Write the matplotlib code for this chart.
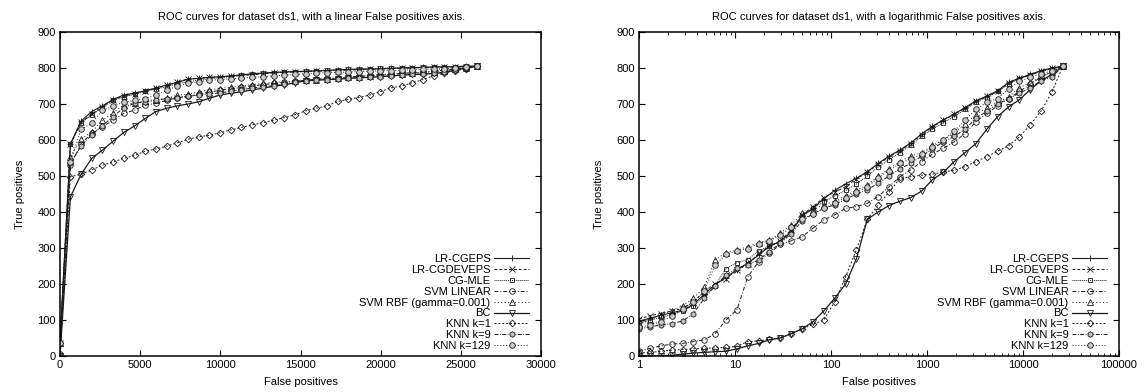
import matplotlib
matplotlib.use("Agg")
import matplotlib.pyplot as plt
import matplotlib.ticker as mticker

plt.rcParams['font.family'] = ['Liberation Sans Narrow', 'Liberation Sans', 'DejaVu Sans']
plt.rcParams['font.size'] = 8

labels = ['LR-CGEPS', 'LR-CGDEVEPS', 'CG-MLE', 'SVM LINEAR', 'SVM RBF (gamma=0.001)',
          'BC', 'KNN k=1', 'KNN k=9', 'KNN k=129']

# false positive thresholds, linear plot
fp_lin = [0, 650, 1320, 1980, 2650, 3320, 3980, 4650, 5320, 5980, 6650, 7320, 7980, 8650,
          9320, 9980, 10650, 11320, 11980, 12650, 13320, 13980, 14650, 15320, 15980, 16650,
          17320, 17980, 18650, 19320, 19980, 20650, 21320, 21980, 22650, 23320, 23980, 24650,
          25320, 26000]

lin_lr_cgeps = [37, 589, 653, 679, 695, 713, 725, 730, 737, 744, 753, 760, 769, 771, 774, 776, 778, 781, 784, 786,
                788, 789, 790, 791, 792, 793, 795, 796, 797, 797, 798, 799, 800, 801, 802, 803, 803, 804, 805, 805]
lin_lr_cgdeveps = [37, 589, 650, 672, 693, 712, 722, 729, 736, 744, 752, 761, 770, 772, 774, 775, 777, 779, 781, 784,
                   786, 788, 789, 790, 791, 792, 793, 794, 795, 796, 797, 798, 799, 800, 801, 802, 802, 803, 804, 805]
lin_cg_mle = [37, 588, 648, 670, 690, 710, 720, 727, 735, 741, 748, 756, 762, 766, 770, 773, 776, 780, 783, 785,
              787, 789, 790, 791, 793, 794, 795, 796, 797, 798, 799, 800, 801, 801, 802, 803, 803, 804, 805, 805]
lin_svm_linear = [5, 530, 590, 619, 637, 655, 674, 683, 697, 702, 710, 717, 722, 727, 733, 738, 742, 746, 750, 754,
                  757, 760, 763, 766, 769, 771, 773, 775, 777, 779, 781, 783, 785, 787, 789, 791, 794, 797, 801, 805]
lin_svm_rbf = [37, 554, 603, 622, 655, 676, 697, 704, 709, 712, 716, 724, 728, 733, 740, 743, 747, 750, 754, 757,
               760, 762, 764, 766, 768, 770, 772, 774, 776, 778, 780, 782, 784, 786, 788, 790, 793, 796, 800, 805]
lin_bc = [0, 442, 505, 549, 572, 597, 621, 639, 660, 679, 688, 695, 700, 706, 716, 725, 730, 734, 739, 744,
          749, 753, 759, 764, 766, 768, 769, 771, 773, 774, 776, 778, 780, 782, 783, 785, 788, 794, 800, 805]
lin_knn1 = [0, 498, 505, 517, 530, 539, 549, 557, 569, 575, 583, 592, 602, 609, 613, 620, 628, 635, 642, 648,
            655, 662, 670, 681, 688, 695, 707, 713, 718, 725, 734, 745, 750, 759, 768, 779, 785, 793, 797, 805]
lin_knn9 = [37, 535, 583, 615, 640, 665, 690, 702, 706, 710, 715, 718, 721, 725, 728, 731, 735, 740, 744, 748,
            751, 755, 760, 765, 766, 768, 769, 771, 773, 774, 776, 778, 780, 782, 783, 785, 788, 794, 800, 805]
lin_knn129 = [37, 540, 630, 646, 683, 694, 705, 710, 715, 725, 738, 750, 758, 762, 766, 768, 770, 772, 774, 776,
              778, 780, 782, 784, 786, 787, 788, 789, 790, 791, 792, 793, 794, 795, 796, 797, 798, 800, 803, 805]

# false positive thresholds, log plot
fp_log = [1, 1.3, 1.68, 2.19, 2.84, 3.68, 4.78, 6.2, 8.05, 10.45, 13.6, 17.6, 22.8, 29.6, 38.5, 49.9, 64.8,
          84.1, 109, 142, 184, 239, 310, 402, 522, 677, 879, 1140, 1480, 1921, 2493, 3235, 4199, 5450,
          7073, 9179, 11913, 15461, 20066, 26000]

log_lr_cgeps = [97, 105, 113, 120, 127, 143, 172, 198, 218, 240, 258, 280, 305, 318, 345, 390, 410, 437, 460, 478,
                494, 512, 535, 555, 572, 592, 617, 638, 656, 672, 690, 709, 722, 737, 760, 772, 782, 793, 800, 805]
log_lr_cgdeveps = [103, 112, 118, 125, 132, 150, 180, 200, 215, 238, 255, 285, 305, 320, 350, 392, 415, 440, 455, 470,
                   492, 510, 532, 553, 570, 590, 615, 636, 655, 671, 688, 707, 721, 736, 758, 771, 781, 792, 799, 805]
log_cg_mle = [92, 100, 107, 115, 125, 140, 165, 195, 243, 259, 268, 292, 305, 318, 345, 385, 410, 428, 445, 460,
              478, 500, 525, 545, 565, 585, 610, 630, 648, 665, 685, 705, 718, 735, 755, 770, 780, 790, 798, 805]
log_svm_linear = [15, 21, 28, 33, 35, 40, 45, 62, 100, 128, 220, 262, 285, 310, 320, 331, 355, 378, 392, 410,
                  415, 424, 443, 470, 498, 517, 540, 561, 577, 595, 618, 651, 674, 695, 715, 735, 755, 775, 790, 805]
log_svm_rbf = [88, 100, 115, 125, 140, 160, 191, 267, 287, 294, 304, 315, 322, 341, 364, 396, 406, 420, 430, 445,
               460, 475, 500, 520, 540, 555, 565, 585, 600, 620, 645, 670, 690, 705, 720, 745, 760, 775, 790, 805]
log_bc = [0, 0, 0, 2, 5, 8, 10, 12, 13, 20, 28, 35, 45, 50, 62, 75, 95, 125, 160, 200,
          270, 380, 400, 418, 430, 440, 458, 490, 510, 540, 565, 590, 630, 665, 692, 712, 740, 765, 782, 805]
log_knn1 = [8, 10, 13, 16, 18, 20, 21, 23, 24, 27, 40, 42, 46, 50, 62, 75, 88, 100, 150, 220,
            295, 380, 420, 455, 493, 498, 502, 505, 511, 516, 526, 540, 554, 569, 584, 609, 642, 681, 734, 805]
log_knn9 = [75, 81, 86, 90, 97, 118, 160, 195, 225, 244, 253, 267, 290, 313, 340, 375, 395, 410, 420, 435,
            450, 462, 480, 500, 520, 535, 555, 575, 595, 610, 630, 660, 680, 700, 715, 730, 745, 765, 775, 805]
log_knn129 = [80, 86, 95, 110, 130, 150, 180, 253, 282, 292, 298, 312, 320, 335, 358, 380, 395, 410, 425, 440,
              455, 470, 495, 515, 535, 548, 560, 580, 600, 625, 655, 685, 705, 715, 742, 763, 774, 784, 792, 805]

lin_series = [lin_lr_cgeps, lin_lr_cgdeveps, lin_cg_mle, lin_svm_linear, lin_svm_rbf,
              lin_bc, lin_knn1, lin_knn9, lin_knn129]
log_series = [log_lr_cgeps, log_lr_cgdeveps, log_cg_mle, log_svm_linear, log_svm_rbf,
              log_bc, log_knn1, log_knn9, log_knn129]

# marker, linestyle, marker face, line width
styles = [
    ('+', '-', 'none', 0.8),
    ('x', (0, (3, 2)), 'none', 0.7),
    ('s', (0, (1, 1)), 'none', 0.7),
    ('o', (0, (4, 2, 1, 2)), 'none', 0.7),
    ('^', (0, (1, 2.5)), 'none', 0.7),
    ('v', '-', 'none', 0.9),
    ('D', (0, (2, 2)), 'none', 0.7),
    ('h', (0, (4, 1.5, 1, 1.5)), '0.75', 0.7),
    ('o', (0, (1, 2)), '0.8', 0.7),
]

fig = plt.figure(figsize=(11.47, 3.92), dpi=100)
ax1 = fig.add_axes([60 / 1147, 36 / 392, 481 / 1147, 324 / 392])
ax2 = fig.add_axes([639 / 1147, 36 / 392, 480 / 1147, 324 / 392])


def draw(ax, xs, series):
    for lab, ys, (mk, ls, mfc, lw) in zip(labels, series, styles):
        ms = 3.4 if mk in ('D', 's') else 4.0
        ax.plot(xs, ys, color='0.1', linestyle=ls, linewidth=lw, marker=mk, markersize=ms,
                markerfacecolor=mfc, markeredgecolor='0.1', markeredgewidth=0.6, label=lab)
    ax.set_ylim(0, 900)
    ax.set_yticks(range(0, 901, 100))
    ax.set_ylabel('True positives', labelpad=9)
    ax.set_xlabel('False positives', labelpad=5)
    ax.tick_params(direction='in', top=True, right=True, length=4, width=0.8, pad=3)
    ax.tick_params(which='minor', direction='in', top=True, right=True, length=2, width=0.6)
    for sp in ax.spines.values():
        sp.set_linewidth(1.1)
    ax.legend(loc='lower right', bbox_to_anchor=(0.976, 0.015), frameon=False, markerfirst=False,
              alignment='right', handlelength=3.2, handletextpad=0.3, labelspacing=0.08,
              borderpad=0.0, borderaxespad=0.0, fontsize=8)


draw(ax1, fp_lin, lin_series)
ax1.set_xlim(0, 30000)
ax1.set_xticks(range(0, 30001, 5000))
ax1.set_title('ROC curves for dataset ds1, with a linear False positives axis.', fontsize=8, pad=9, x=0.522)

draw(ax2, fp_log, log_series)
ax2.set_xscale('log')
ax2.set_xlim(1, 100000)
ax2.set_xticks([1, 10, 100, 1000, 10000, 100000])
ax2.xaxis.set_major_formatter(mticker.FuncFormatter(lambda v, p: f'{int(round(v))}'))
ax2.xaxis.set_minor_locator(mticker.LogLocator(base=10, subs=range(2, 10)))
ax2.xaxis.set_minor_formatter(mticker.NullFormatter())
ax2.set_title('ROC curves for dataset ds1, with a logarithmic False positives axis.', fontsize=8, pad=9)

fig.savefig('out.png', dpi=100)
